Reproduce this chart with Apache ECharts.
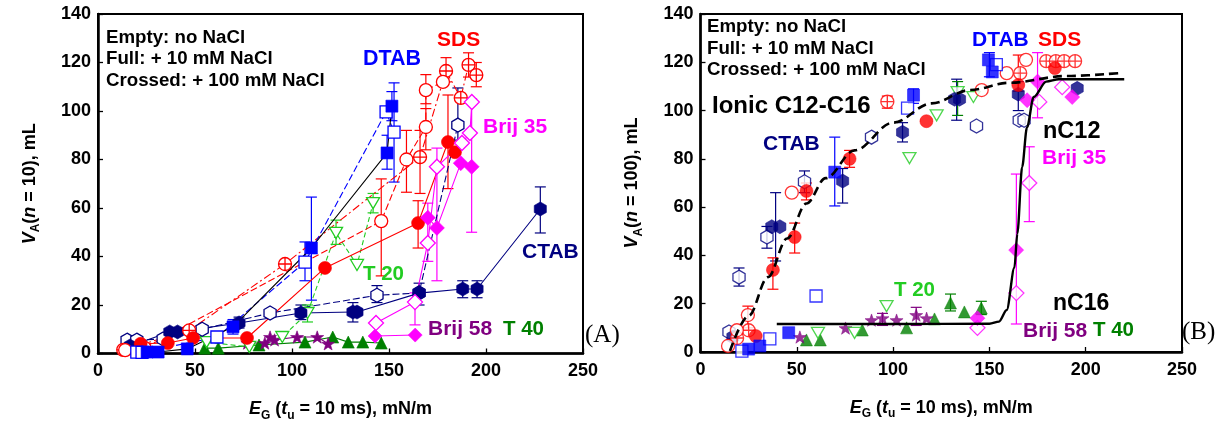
<!DOCTYPE html>
<html>
<head>
<meta charset="utf-8">
<script src="https://cdn.jsdelivr.net/npm/echarts@6/dist/echarts.min.js"></script>
<style>
  html, body { margin: 0; padding: 0; background: #fff; }
  #chart { width: 1229px; height: 433px; }
</style>
</head>
<body>
<div id="chart"></div>
<script>
// ---------- Axis ticks ----------
const xTicks = [0, 50, 100, 150, 200, 250];
const yTicks = [0, 20, 40, 60, 80, 100, 120, 140];

// ---------- Panel A: V_A(n = 10) vs E_G ----------
const aDtabFull    = [[25.3,0.6],[31,0.6],[46,1.9],[69.6,11],[110,43.5],[149,82.7],[151.5,102]];
const aDtabEmpty   = [[20,0.6],[22.7,0.5],[61.3,6.8],[106.7,37.7],[148.5,99.6],[152.6,91.3]];
const aSdsEmpty    = [[14,1.4],[24,2.3],[146,54.6],[159,80],[169,93.4],[169,108.6],[177.8,112]];
const aSdsFull     = [[22,4],[36,4.3],[49,6.4],[76.8,6.4],[117,35.3],[165,53.8],[180.4,87.2],[184,83]];
const aSdsCrossed  = [[13,1.5],[47,9.5],[96.4,36.9],[166,81],[179.4,116.5],[187,105.4],[191,119],[195,114.8]];
const aCtabFull    = [[16.5,3.1],[37,8.9],[41,8.9],[72.7,12.6],[104.6,16.7],[131.4,17.1],[133.5,17.1],[165.5,24.9],[188,26.6],[195.4,26.6],[228,59.6]];
const aCtabEmpty   = [[15,5.5],[20,5.5],[33.6,6],[53.7,10],[88.7,16.7],[143.8,24],[165.5,25],[185.5,94.2]];
const aBrij35Full  = [[170,56],[174.7,51.8],[187,78.5],[192.6,77]];
const aBrij35Low   = [[142.8,7.2],[163.5,7.6]];
const aBrij35Empty = [[143.3,12.6],[163.4,21.2],[170,45.6],[174.7,77],[187.6,86.8],[191.7,90.9],[192.7,103.7]];
const aT20         = [[56,4.7],[78,2.7],[95,6.8],[108,16.7],[122.7,49.7],[133.5,36.5],[141.8,62]];
const aT40         = [[55,2.2],[62,2.2],[83,3.5],[106.7,4.7],[121,6.8],[129,4.7],[136.5,4.7],[146,4.3]];
const aBrij58      = [[77,4.3],[86,4.3],[88.7,6.8],[91,5.6],[102.6,6.8],[113,6.8],[118.6,4]];

// error bars: [E_G, low, high]
const aErrBlue    = [[110,22,64.5],[149,76,90],[151.5,96,108],[152.6,70.7,111.6],[106.7,30,46],[69.6,8,14]];
const aErrRed     = [[146,32,72],[159,66.5,92],[169,84,101],[169,103,115],[165,43.5,63],[180.4,68,106.6],[166,66,92],[179.4,112,122],[191,114,124],[195,110,120]];
const aErrNavy    = [[228,49.7,68.7],[188,23,30],[195.4,23,30],[165.5,20,29],[143.8,21,28],[131.4,13,21],[104.6,14,20],[72.7,10.5,15],[185.5,88,109.5]];
const aErrMagenta = [[174.7,30,84.7],[192.6,50,105],[163.4,11.8,25],[170,38,62]];
const aErrGreen   = [[122.7,45,55],[141.8,58,66],[108,13,20]];

// ---------- Panel B: V_A(n = 100) vs E_G ----------
const bDtabFull    = [[25,1.2],[30.8,2.5],[45.8,8],[69.7,74.5],[110.6,106.4],[149.5,121],[151.5,116]];
const bDtabEmpty   = [[21.5,0.4],[36,5.4],[60,23.2],[107.5,101],[153.6,119]];
const bSdsEmpty    = [[14.3,2.5],[18.9,9],[24.6,15.3],[47.4,66],[146,108.5],[159,115.5],[169,121]];
const bSdsFull     = [[28.7,6.6],[37.6,34],[48.9,47.6],[55,66.7],[77.4,80],[117.3,95.6],[165,110.6],[184,117.6]];
const bSdsCrossed  = [[19,5.8],[25,9],[97,103.7],[166,115.5],[179.5,120.5],[184.5,120.5],[188.8,120.5],[194.5,120.5]];
const bCtabFull    = [[16.8,6.2],[37,51.9],[41.2,51.9],[73.8,70.8],[104.9,91],[131.9,104.7],[134.5,104.7],[165,106.8],[195.6,109.2]];
const bCtabEmpty   = [[14.8,8.3],[20,31],[34.5,47.6],[54,70.5],[88.8,89],[143.3,93.6],[165.5,96],[168,96]];
const bT20         = [[61,7.9],[80,7.9],[96.6,19],[108.5,80.3],[122.6,98],[133.5,107.6],[141.7,105.6]];
const bT40         = [[55,5],[62.2,5],[84,9.1],[107,10],[121.5,13.7],[129.8,20.3],[137,16.6],[145.8,18.2]];
const bBrij58      = [[51.6,6.2],[75.3,9.9],[88.8,13.2],[94.5,14],[101.8,13.2],[112,15.3],[117.4,14]];
const bBrij35Full  = [[143.8,14],[163.9,42.2],[169.6,104.3],[175,112],[193,105.6]];
const bBrij35Empty = [[143.8,10],[164,24.4],[170.7,70],[175.9,103.6],[187.8,109.7]];

// fitted trends
const bIonicFit = [[15.3,0.4],[25,15],[35,31],[45,47],[55,61.5],[65,72],[80,83.5],[100,95],[120,103],[140,108.5],[160,111.5],[190,114.3],[218.5,115.6]];
const bChainFit = [[39.6,11.6],[100,11.6],[150,11.7],[155,12.6],[159,17.4],[163,35],[164.5,49],[167,76.6],[169.5,93],[173,105.6],[179.5,112],[186,113],[220,113]];

const bErrNavy    = [[39,37.7,66],[73.8,61.7,76],[104.9,87,95],[133,96,113],[165,100,112],[20,27.3,34.8],[34.5,43,52],[54,66,75]];
const bErrBlue    = [[69.7,60.5,89],[110.6,103,109],[150,114,124]];
const bErrRed     = [[37.6,26,39],[48.9,41,53.4],[55,63,70],[77.4,76.5,83.5],[24.6,10,19],[165,108,123],[97,101,106]];
const bErrMagenta = [[164,11.6,73.7],[170.7,54,85],[175,97,124]];
const bErrGreen   = [[129.8,17,24],[145.8,15.5,21],[133.5,98,112]];
const bErrPurple  = [[112,11,18.5],[94.5,11,16]];

// ---------- styling ----------
const FONT = '"Liberation Sans", Arial, Helvetica, sans-serif';
const C = {
  blue: '#0000ff', red: '#ff0000', navy: '#000080', magenta: '#ff00ff',
  green: '#22cc22', dkgreen: '#008000', purple: '#800080', black: '#000000'
};
const SYM = {
  square: 'rect',
  circle: 'circle',
  diamond: 'diamond',
  triangle: 'triangle',
  triDown: 'path://M0,0L20,0L10,17Z',
  hex: 'path://M10,0L18.66,5L18.66,15L10,20L1.34,15L1.34,5Z',
  star: 'path://M10,0L12.35,6.76L19.51,6.91L13.8,11.24L15.88,18.09L10,14L4.12,18.09L6.2,11.24L0.49,6.91L7.65,6.76Z',
  crossed: 'path://M1,10A9,9,0,1,1,19,10A9,9,0,1,1,1,10ZM10,1L10,19M1,10L19,10'
};

function marks(data, g, o) {
  const s = {
    type: o.line ? 'line' : 'scatter',
    data: data,
    xAxisIndex: g, yAxisIndex: g,
    symbol: SYM[o.sym],
    symbolSize: o.size || 12,
    symbolKeepAspect: true,
    itemStyle: {
      color: o.open ? '#ffffff' : o.color,
      borderColor: o.color,
      borderWidth: o.open ? 1.3 : 0.6
    },
    z: 5,
    silent: true
  };
  if (o.line) {
    s.showSymbol = true;
    s.showAllSymbol = true;
    s.lineStyle = { color: o.lineColor || o.color, width: 1.1, type: o.line };
  }
  return s;
}

function errBars(data, g, color) {
  return {
    type: 'custom',
    data: data,
    xAxisIndex: g, yAxisIndex: g,
    encode: { x: 0, y: [1, 2] },
    z: 3,
    silent: true,
    renderItem: function (params, api) {
      const x = api.value(0);
      const p1 = api.coord([x, api.value(1)]);
      const p2 = api.coord([x, api.value(2)]);
      const w = 5.5;
      const st = { stroke: color, lineWidth: 1.2 };
      return {
        type: 'group',
        children: [
          { type: 'line', shape: { x1: p1[0], y1: p1[1], x2: p2[0], y2: p2[1] }, style: st },
          { type: 'line', shape: { x1: p1[0] - w, y1: p1[1], x2: p1[0] + w, y2: p1[1] }, style: st },
          { type: 'line', shape: { x1: p2[0] - w, y1: p2[1], x2: p2[0] + w, y2: p2[1] }, style: st }
        ]
      };
    }
  };
}

const nameRich = {
  i: { fontFamily: FONT, fontWeight: 'bold', fontStyle: 'italic', fontSize: 18, color: '#000', lineHeight: 24 },
  n: { fontFamily: FONT, fontWeight: 'bold', fontSize: 18, color: '#000', lineHeight: 24 },
  s: { fontFamily: FONT, fontWeight: 'bold', fontSize: 12, color: '#000', lineHeight: 12, verticalAlign: 'bottom' }
};

function xAxis(g) {
  return {
    gridIndex: g, type: 'value', min: xTicks[0], max: xTicks[xTicks.length - 1], interval: xTicks[1] - xTicks[0],
    axisLine: { show: true, onZero: false, lineStyle: { color: '#000', width: 2.5 } },
    axisTick: { show: true, inside: true, length: 5, lineStyle: { color: '#000', width: 1.3 } },
    axisLabel: { color: '#000', fontSize: 18, fontWeight: 'bold', fontFamily: FONT, margin: 9 },
    splitLine: { show: false },
    name: '{i|E}{s|G}{n| (}{i|t}{s|u}{n| = 10 ms), mN/m}',
    nameLocation: 'middle', nameGap: 44,
    nameTextStyle: { rich: nameRich }
  };
}
function yAxis(g, n) {
  return {
    gridIndex: g, type: 'value', min: yTicks[0], max: yTicks[yTicks.length - 1], interval: yTicks[1] - yTicks[0],
    axisLine: { show: true, onZero: false, lineStyle: { color: '#000', width: 2.5 } },
    axisTick: { show: true, inside: true, length: 5, lineStyle: { color: '#000', width: 1.3 } },
    axisLabel: { color: '#000', fontSize: 18, fontWeight: 'bold', fontFamily: FONT, margin: 7 },
    splitLine: { show: false },
    name: '{i|V}{s|A}{n|(}{i|n}{n| = ' + n + '), mL}',
    nameLocation: 'middle', nameGap: 56,
    nameTextStyle: { rich: nameRich }
  };
}

function txt(x, y, text, color, size, serif) {
  return {
    type: 'text', x: x, y: y, silent: true, z: 20,
    style: {
      text: text, fill: color,
      font: (serif ? 'normal ' : 'bold ') + size + 'px ' + (serif ? '"Liberation Serif", "Times New Roman", serif' : FONT),
      verticalAlign: 'middle', align: 'left'
    }
  };
}

const graphic = [
  txt(106, 37.5, 'Empty: no NaCl', '#000', 18.7),
  txt(106, 59.3, 'Full: + 10 mM NaCl', '#000', 18.7),
  txt(106, 80.7, 'Crossed: + 100 mM NaCl', '#000', 18.7),
  txt(363, 59.5, 'DTAB', C.blue, 21.5),
  txt(437, 40.5, 'SDS', C.red, 21),
  txt(483, 127, 'Brij 35', C.magenta, 21),
  txt(522, 252.5, 'CTAB', C.navy, 21),
  txt(363, 274.5, 'T 20', C.green, 20.5),
  txt(428, 329, 'Brij 58', C.purple, 21),
  txt(503, 329, 'T 40', C.dkgreen, 20.5),
  txt(585, 335, '(A)', '#000', 25, true),

  txt(707, 26.5, 'Empty: no NaCl', '#000', 18.7),
  txt(707, 48.5, 'Full: + 10 mM NaCl', '#000', 18.7),
  txt(707, 70, 'Crossed: + 100 mM NaCl', '#000', 18.7),
  txt(712, 106, 'Ionic C12-C16', '#000', 24),
  txt(763, 144.5, 'CTAB', C.navy, 21),
  txt(972, 40.5, 'DTAB', C.blue, 21),
  txt(1038, 40.5, 'SDS', C.red, 21),
  txt(1043, 132, 'nC12', '#000', 23.5),
  txt(1042, 158.5, 'Brij 35', C.magenta, 21),
  txt(894, 290.5, 'T 20', C.green, 20.5),
  txt(1053, 303.5, 'nC16', '#000', 23),
  txt(1023, 331, 'Brij 58', C.purple, 21),
  txt(1093, 330, 'T 40', C.dkgreen, 20.5),
  txt(1182, 332, '(B)', '#000', 25, true)
];

const series = [
  // panel A error bars
  errBars(aErrBlue, 0, C.blue),
  errBars(aErrRed, 0, C.red),
  errBars(aErrNavy, 0, C.navy),
  errBars(aErrMagenta, 0, C.magenta),
  errBars(aErrGreen, 0, C.green),
  // panel A marks with connecting lines
  marks(aT40, 0, { sym: 'triangle', color: C.dkgreen, size: 12, line: 'solid' }),
  marks(aBrij58, 0, { sym: 'star', color: C.purple, size: 13, line: 'solid' }),
  marks(aT20, 0, { sym: 'triDown', color: C.green, open: true, size: 13, line: [5, 3] }),
  marks(aCtabEmpty, 0, { sym: 'hex', color: C.navy, open: true, size: 14, line: [7, 3] }),
  marks(aCtabFull, 0, { sym: 'hex', color: C.navy, size: 14, line: 'solid' }),
  marks(aSdsCrossed, 0, { sym: 'crossed', color: C.red, open: true, size: 13, line: [8, 3, 2, 3] }),
  marks(aSdsEmpty, 0, { sym: 'circle', color: C.red, open: true, size: 13, line: [7, 3] }),
  marks(aSdsFull, 0, { sym: 'circle', color: C.red, size: 13, line: 'solid' }),
  marks(aBrij35Low, 0, { sym: 'diamond', color: C.magenta, size: 14, line: 'solid' }),
  marks(aBrij35Empty, 0, { sym: 'diamond', color: C.magenta, open: true, size: 15, line: 'solid' }),
  marks(aBrij35Full, 0, { sym: 'diamond', color: C.magenta, size: 15, line: 'solid' }),
  marks(aDtabEmpty, 0, { sym: 'square', color: C.blue, open: true, size: 12, line: [7, 3] }),
  marks(aDtabFull, 0, { sym: 'square', color: C.blue, size: 12, line: 'solid', lineColor: '#000' }),

  // panel B error bars
  errBars(bErrNavy, 1, C.navy),
  errBars(bErrBlue, 1, C.blue),
  errBars(bErrRed, 1, C.red),
  errBars(bErrMagenta, 1, C.magenta),
  errBars(bErrGreen, 1, C.dkgreen),
  errBars(bErrPurple, 1, C.purple),
  // panel B scatter
  marks(bT40, 1, { sym: 'triangle', color: C.dkgreen, size: 12 }),
  marks(bBrij58, 1, { sym: 'star', color: C.purple, size: 13 }),
  marks(bT20, 1, { sym: 'triDown', color: C.green, open: true, size: 13 }),
  marks(bCtabEmpty, 1, { sym: 'hex', color: C.navy, open: true, size: 14 }),
  marks(bCtabFull, 1, { sym: 'hex', color: C.navy, size: 14 }),
  marks(bSdsCrossed, 1, { sym: 'crossed', color: C.red, open: true, size: 13 }),
  marks(bSdsEmpty, 1, { sym: 'circle', color: C.red, open: true, size: 13 }),
  marks(bSdsFull, 1, { sym: 'circle', color: C.red, size: 13 }),
  marks(bBrij35Empty, 1, { sym: 'diamond', color: C.magenta, open: true, size: 15 }),
  marks(bBrij35Full, 1, { sym: 'diamond', color: C.magenta, size: 15 }),
  marks(bDtabEmpty, 1, { sym: 'square', color: C.blue, open: true, size: 12 }),
  marks(bDtabFull, 1, { sym: 'square', color: C.blue, size: 12 }),
  // trend curves
  {
    type: 'line', data: bIonicFit, xAxisIndex: 1, yAxisIndex: 1, showSymbol: false,
    smooth: 0.35, smoothMonotone: 'x', silent: true, z: 8,
    lineStyle: { color: '#000', width: 2.6, type: [9, 5] }
  },
  {
    type: 'line', data: bChainFit, xAxisIndex: 1, yAxisIndex: 1, showSymbol: false,
    smooth: 0.3, smoothMonotone: 'x', silent: true, z: 8,
    lineStyle: { color: '#000', width: 2.4 }
  }
];

const chart = echarts.init(document.getElementById('chart'), null, { renderer: 'canvas' });
chart.setOption({
  animation: false,
  backgroundColor: '#ffffff',
  grid: [
    { left: 98, top: 14, width: 485, height: 339.5, show: true, borderColor: '#000', borderWidth: 2, backgroundColor: 'transparent' },
    { left: 700.5, top: 14, width: 481.5, height: 338, show: true, borderColor: '#000', borderWidth: 2, backgroundColor: 'transparent' }
  ],
  xAxis: [xAxis(0), xAxis(1)],
  yAxis: [yAxis(0, 10), yAxis(1, 100)],
  graphic: graphic,
  series: series
});
</script>
</body>
</html>
